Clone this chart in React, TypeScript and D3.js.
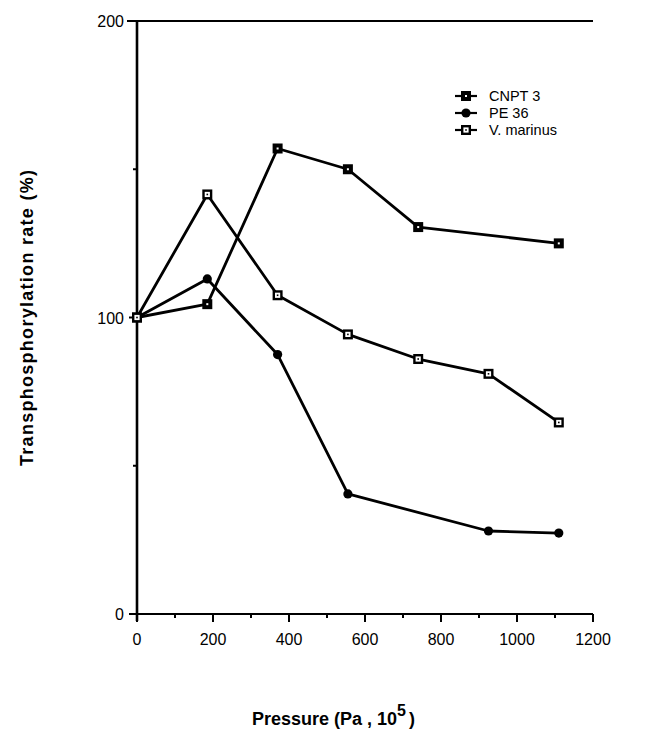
import React from "react";
import * as d3 from "d3";

const seriesNames = ["CNPT 3", "PE 36", "V. marinus"];
const cnptX = [0, 185, 370, 555, 740, 1110];
const cnptY = [100, 104.5, 157, 150, 130.5, 125];
const peX = [0, 185, 370, 555, 925, 1110];
const peY = [100, 113, 87.5, 40.5, 28, 27.3];
const vmX = [0, 185, 370, 555, 740, 925, 1110];
const vmY = [100, 141.5, 107.5, 94.3, 86, 81, 64.6];
const xTicks = [0, 200, 400, 600, 800, 1000, 1200];
const xMinorTicks = [100, 300, 500, 700, 900, 1100];
const yTicks = [0, 100, 200];
const yMinorTicks = [50, 150];

const W = 660, H = 730;
const L = 137, R = 593, T = 21, B = 614;

function Marker({ kind, x, y }: { kind: number; x: number; y: number }) {
  if (kind === 0) {
    return (
      <g>
        <rect x={x - 5} y={y - 5} width={10} height={10} fill="#000" />
        <rect x={x - 1} y={y - 1} width={2} height={2} fill="#fff" />
      </g>
    );
  }
  if (kind === 1) {
    return <circle cx={x} cy={y} r={4.6} fill="#000" />;
  }
  return (
    <g>
      <rect x={x - 5} y={y - 5} width={10} height={10} fill="#000" />
      <rect x={x - 2.6} y={y - 2.6} width={5.2} height={5.2} fill="#fff" />
      <rect x={x - 0.8} y={y - 0.8} width={1.6} height={1.6} fill="#000" />
    </g>
  );
}

export default function App() {
  const x = d3.scaleLinear().domain([0, 1200]).range([L, R]);
  const y = d3.scaleLinear().domain([0, 200]).range([B, T]);
  const line = d3
    .line<[number, number]>()
    .x((d) => x(d[0]))
    .y((d) => y(d[1]));
  const series = [
    { xs: cnptX, ys: cnptY },
    { xs: peX, ys: peY },
    { xs: vmX, ys: vmY },
  ];
  const font = "Liberation Sans, Arial, Helvetica, sans-serif";
  return (
    <svg width={W} height={H} style={{ position: "absolute", left: 0, top: 0, background: "#fff" }}>
      <rect width={W} height={H} fill="#fff" />
      {/* axes */}
      <line x1={L} y1={T} x2={L} y2={B + 7} stroke="#000" strokeWidth={2.6} />
      <line x1={L - 10} y1={T} x2={R} y2={T} stroke="#000" strokeWidth={2} />
      <line x1={L - 7} y1={B} x2={R} y2={B} stroke="#000" strokeWidth={2.2} />
      {xTicks.map((t) => (
        <g key={"xt" + t}>
          <line x1={x(t)} y1={B} x2={x(t)} y2={B + 8} stroke="#000" strokeWidth={2} />
          <text x={x(t)} y={B + 31} textAnchor="middle" fontFamily={font} fontSize={16} fill="#000">
            {t}
          </text>
        </g>
      ))}
      {xMinorTicks.map((t) => (
        <line key={"xm" + t} x1={x(t)} y1={B} x2={x(t)} y2={B + 4} stroke="#000" strokeWidth={2} />
      ))}
      {yTicks.map((t) => (
        <g key={"yt" + t}>
          <line x1={L - 8} y1={y(t)} x2={L} y2={y(t)} stroke="#000" strokeWidth={2} />
          <text x={L - 13} y={y(t) + 6} textAnchor="end" fontFamily={font} fontSize={16} fill="#000">
            {t}
          </text>
        </g>
      ))}
      {yMinorTicks.map((t) => (
        <line key={"ym" + t} x1={L - 4} y1={y(t)} x2={L} y2={y(t)} stroke="#000" strokeWidth={2} />
      ))}
      {/* series */}
      {series.map((s, i) => {
        const pts = s.xs.map((v, j) => [v, s.ys[j]] as [number, number]);
        return (
          <g key={"s" + i}>
            <path d={line(pts) || ""} fill="none" stroke="#000" strokeWidth={2.8} strokeLinejoin="round" />
            {pts.map((p, j) => (
              <Marker key={j} kind={i} x={x(p[0])} y={y(p[1])} />
            ))}
          </g>
        );
      })}
      {/* legend */}
      {seriesNames.map((n, i) => {
        const ly = 96 + i * 17;
        return (
          <g key={"lg" + i}>
            <line x1={455} y1={ly} x2={477} y2={ly} stroke="#000" strokeWidth={2.2} />
            <Marker kind={i} x={466} y={ly} />
            <text x={489} y={ly + 5} fontFamily={font} fontSize={14.5} fill="#000">
              {n}
            </text>
          </g>
        );
      })}
      {/* axis titles */}
      <text
        transform={`translate(33, 318) rotate(-90)`}
        textAnchor="middle"
        fontFamily={font}
        fontSize={18}
        fontWeight="bold"
        fill="#000"
        textLength={296}
        lengthAdjust="spacing"
      >
        Transphosphorylation rate (%)
      </text>
      <text x={252} y={725} fontFamily={font} fontSize={18} fontWeight="bold" fill="#000">
        Pressure (Pa  ,  10
        <tspan dy={-9} fontSize={16}>5</tspan>
        <tspan dy={9} dx={3}>)</tspan>
      </text>
    </svg>
  );
}
